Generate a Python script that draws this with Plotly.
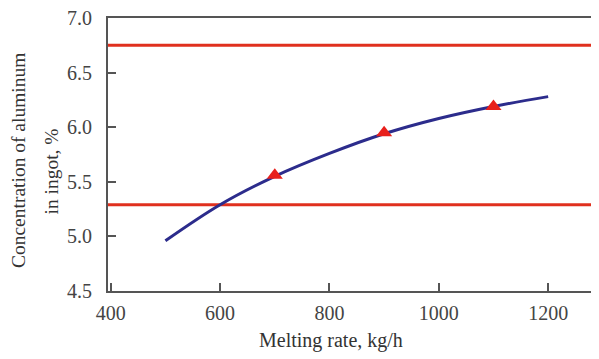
import plotly.graph_objects as go

# Data
curve_rate = [500, 600, 700, 800, 900, 1000, 1100, 1200]
curve_al = [4.96, 5.29, 5.55, 5.76, 5.94, 6.08, 6.19, 6.28]
meas_rate = [700, 900, 1100]
meas_al = [5.56, 5.95, 6.19]
limits = [6.75, 5.29]
x_ticks = [400, 600, 800, 1000, 1200]
y_ticks = [4.5, 5.0, 5.5, 6.0, 6.5, 7.0]
y_tick_text = ["4.5", "5.0", "5.5", "6.0", "6.5", "7.0"]

FONT = "Liberation Serif"

fig = go.Figure()
fig.add_trace(go.Scatter(x=curve_rate, y=curve_al, mode="lines",
                         line=dict(color="#2c2c8c", width=3, shape="spline"),
                         showlegend=False, hoverinfo="skip"))
fig.add_trace(go.Scatter(x=meas_rate, y=meas_al, mode="markers",
                         marker=dict(symbol="triangle-up", size=14, color="#e8201c"),
                         showlegend=False))
for v in limits:
    fig.add_hline(y=v, line=dict(color="#e0301e", width=3), layer="below")

fig.update_layout(
    width=599, height=359,
    margin=dict(l=100, r=8, t=10, b=76, autoexpand=False),
    plot_bgcolor="white", paper_bgcolor="white",
    font=dict(family=FONT, size=20, color="#444"),
    xaxis=dict(range=[395, 1293], tickvals=x_ticks, ticks="inside", ticklen=8,
               tickwidth=1.5, tickcolor="#555", showline=True, linecolor="#555",
               linewidth=2, mirror=True, showgrid=False, zeroline=False,
               automargin=False, ticklabeloverflow="allow",
               ticklabelstandoff=3, tickfont=dict(size=20, color="#444")),
    yaxis=dict(range=[4.5, 7.0], tickvals=y_ticks, ticktext=y_tick_text,
               ticks="inside", ticklen=8, tickwidth=1.5, tickcolor="#555",
               showline=True, linecolor="#555", linewidth=2, showgrid=False,
               zeroline=False, ticklabelstandoff=10, automargin=False,
               ticklabeloverflow="allow",
               tickfont=dict(size=20, color="#444")),
    annotations=[
        dict(text="Melting rate, kg/h", xref="paper", yref="paper",
             x=0.454, y=-0.183, xanchor="center", yanchor="middle",
             showarrow=False, font=dict(family=FONT, size=20, color="#333")),
        dict(text="Concentration of aluminum", xref="paper", yref="paper",
             x=-0.181, y=0.48, xanchor="center", yanchor="middle", textangle=-90,
             showarrow=False, font=dict(family=FONT, size=19.5, color="#333")),
        dict(text="in ingot, %", xref="paper", yref="paper",
             x=-0.115, y=0.436, xanchor="center", yanchor="middle", textangle=-90,
             showarrow=False, font=dict(family=FONT, size=19.5, color="#333")),
    ],
)

fig.write_html("out.html")
